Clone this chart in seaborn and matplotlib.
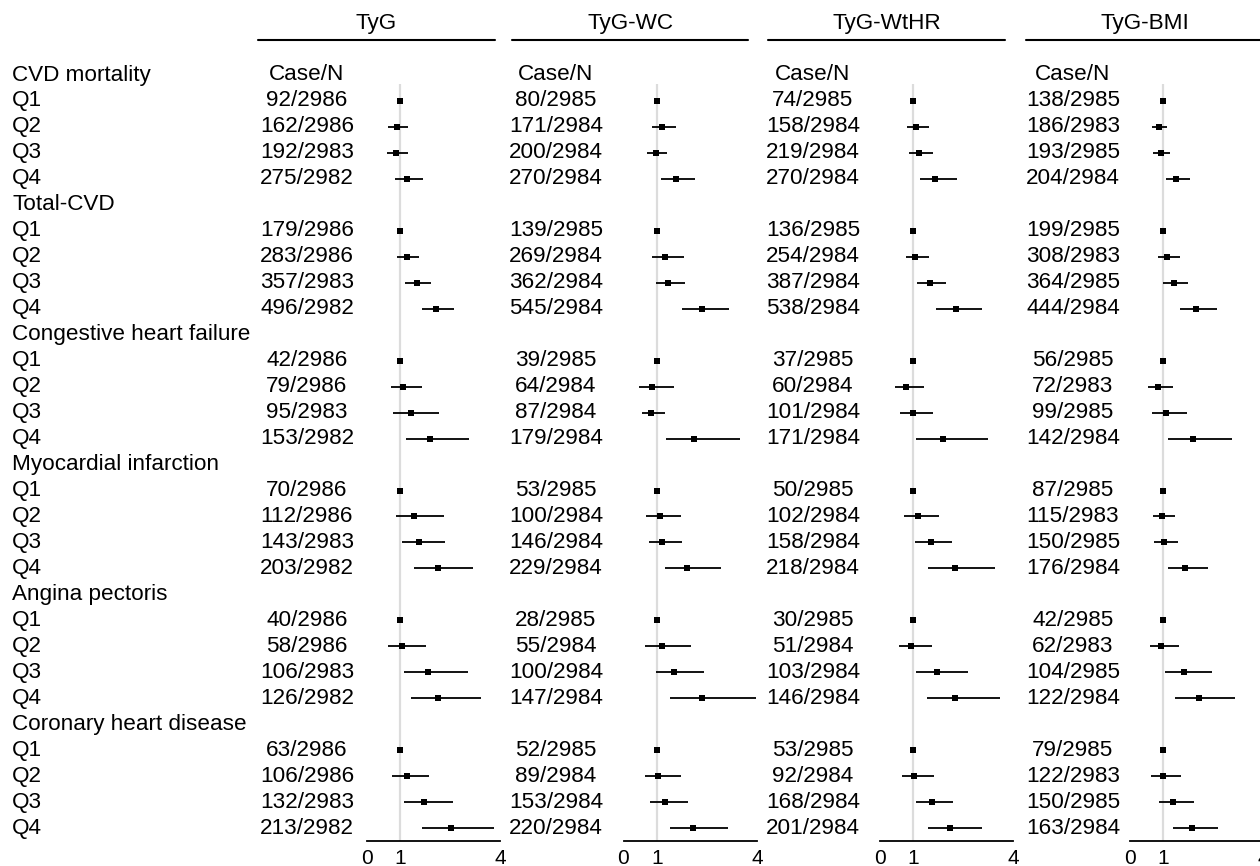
import matplotlib
matplotlib.use("Agg")
import matplotlib.pyplot as plt
import seaborn as sns
import pandas as pd

sns.set_style("white")
plt.rcParams["font.family"] = ["Liberation Sans", "DejaVu Sans"]
plt.rcParams["text.color"] = "black"
plt.rcParams["xtick.color"] = "black"

# ---- data -----------------------------------------------------------------
indices = ["TyG", "TyG-WC", "TyG-WtHR", "TyG-BMI"]
outcomes = ["CVD mortality", "Total-CVD", "Congestive heart failure",
            "Myocardial infarction", "Angina pectoris", "Coronary heart disease"]
quartiles = ["Q1", "Q2", "Q3", "Q4"]
x_ticks = [0, 1, 4]

# participants per quartile for each index
n_tyg = [2986, 2986, 2983, 2982]
n_wc = [2985, 2984, 2984, 2984]
n_wthr = [2985, 2984, 2984, 2984]
n_bmi = [2985, 2983, 2985, 2984]

# cases per outcome (rows) and quartile (columns)
cases_tyg = [[92, 162, 192, 275], [179, 283, 357, 496], [42, 79, 95, 153],
             [70, 112, 143, 203], [40, 58, 106, 126], [63, 106, 132, 213]]
cases_wc = [[80, 171, 200, 270], [139, 269, 362, 545], [39, 64, 87, 179],
            [53, 100, 146, 229], [28, 55, 100, 147], [52, 89, 153, 220]]
cases_wthr = [[74, 158, 219, 270], [136, 254, 387, 538], [37, 60, 101, 171],
              [50, 102, 158, 218], [30, 51, 103, 146], [53, 92, 168, 201]]
cases_bmi = [[138, 186, 193, 204], [199, 308, 364, 444], [56, 72, 99, 142],
             [87, 115, 150, 176], [42, 62, 104, 122], [79, 122, 150, 163]]

# hazard ratios and 95% CI (Q1 = reference)
hr_tyg = [[1.00, 0.90, 0.87, 1.20], [1.00, 1.22, 1.50, 2.08], [1.00, 1.10, 1.32, 1.91],
          [1.00, 1.43, 1.58, 2.14], [1.00, 1.06, 1.83, 2.15], [1.00, 1.21, 1.71, 2.53]]
lo_tyg = [[1.00, 0.65, 0.61, 0.85], [1.00, 0.92, 1.16, 1.66], [1.00, 0.73, 0.80, 1.18],
          [1.00, 0.88, 1.06, 1.43], [1.00, 0.63, 1.11, 1.34], [1.00, 0.77, 1.13, 1.66]]
hi_tyg = [[1.00, 1.23, 1.24, 1.69], [1.00, 1.58, 1.93, 2.62], [1.00, 1.65, 2.17, 3.07],
          [1.00, 2.32, 2.36, 3.20], [1.00, 1.78, 3.04, 3.43], [1.00, 1.88, 2.58, 3.83]]

hr_wc = [[1.00, 1.15, 0.97, 1.58], [1.00, 1.26, 1.34, 2.36], [1.00, 0.85, 0.84, 2.13],
         [1.00, 1.10, 1.17, 1.91], [1.00, 1.15, 1.52, 2.37], [1.00, 1.04, 1.25, 2.09]]
lo_wc = [[1.00, 0.85, 0.71, 1.13], [1.00, 0.86, 0.97, 1.75], [1.00, 0.47, 0.55, 1.29],
         [1.00, 0.68, 0.77, 1.24], [1.00, 0.64, 0.97, 1.41], [1.00, 0.64, 0.80, 1.39]]
hi_wc = [[1.00, 1.59, 1.32, 2.16], [1.00, 1.81, 1.84, 3.17], [1.00, 1.53, 1.25, 3.51],
         [1.00, 1.74, 1.77, 2.94], [1.00, 2.04, 2.41, 3.97], [1.00, 1.72, 1.94, 3.14]]

hr_wthr = [[1.00, 1.09, 1.18, 1.66], [1.00, 1.06, 1.49, 2.27], [1.00, 0.78, 0.99, 1.88],
           [1.00, 1.13, 1.52, 2.24], [1.00, 0.94, 1.70, 2.25], [1.00, 1.03, 1.55, 2.11]]
lo_wthr = [[1.00, 0.80, 0.87, 1.20], [1.00, 0.77, 1.11, 1.68], [1.00, 0.46, 0.61, 1.09],
           [1.00, 0.72, 1.06, 1.44], [1.00, 0.56, 1.09, 1.41], [1.00, 0.66, 1.09, 1.45]]
hi_wthr = [[1.00, 1.48, 1.58, 2.30], [1.00, 1.46, 1.97, 3.07], [1.00, 1.31, 1.58, 3.23],
           [1.00, 1.77, 2.17, 3.45], [1.00, 1.57, 2.64, 3.59], [1.00, 1.62, 2.18, 3.05]]

hr_bmi = [[1.00, 0.86, 0.92, 1.39], [1.00, 1.12, 1.31, 1.98], [1.00, 0.84, 1.07, 1.89],
          [1.00, 0.96, 1.01, 1.64], [1.00, 0.93, 1.61, 2.06], [1.00, 0.99, 1.30, 1.85]]
lo_bmi = [[1.00, 0.67, 0.70, 1.07], [1.00, 0.83, 0.98, 1.51], [1.00, 0.54, 0.66, 1.15],
          [1.00, 0.68, 0.71, 1.14], [1.00, 0.60, 1.06, 1.36], [1.00, 0.64, 0.88, 1.29]]
hi_bmi = [[1.00, 1.12, 1.20, 1.79], [1.00, 1.51, 1.74, 2.62], [1.00, 1.29, 1.72, 3.05],
          [1.00, 1.34, 1.43, 2.35], [1.00, 1.46, 2.45, 3.14], [1.00, 1.54, 1.91, 2.63]]

panels = [
    (n_tyg, cases_tyg, hr_tyg, lo_tyg, hi_tyg),
    (n_wc, cases_wc, hr_wc, lo_wc, hi_wc),
    (n_wthr, cases_wthr, hr_wthr, lo_wthr, hi_wthr),
    (n_bmi, cases_bmi, hr_bmi, lo_bmi, hi_bmi),
]

# ---- layout (pixels) -------------------------------------------------------
W, H = 1260, 866
fig = plt.figure(figsize=(W / 100, H / 100), dpi=100)
FS = 16.2

row0_px, row_step = 75, 25.97
ax_top_px, ax_bot_px = 48, 841
axis_zero_px = [366.7, 623.5, 880.0, 1130.0]
unit_px = 33.33
count_center_px = [307, 556, 813, 1073]
header_span_px = [(258, 495), (512, 748), (768, 1005), (1026, 1263)]


def row_px(i):
    return row0_px + row_step * i


def fy(px):
    return 1 - px / H


ylim_bottom = (ax_bot_px - row0_px) / row_step
ylim_top = (ax_top_px - row0_px) / row_step

# row labels on the left
for j, name in enumerate(outcomes):
    r = 5 * j
    fig.text(12 / W, fy(row_px(r)), name, fontsize=FS, ha="left", va="center")
    for q, ql in enumerate(quartiles):
        fig.text(12 / W, fy(row_px(r + 1 + q)), ql, fontsize=FS, ha="left", va="center")

for k, (idx_name, (nn, cases, hr, lo, hi)) in enumerate(zip(indices, panels)):
    # header with underline
    x0, x1 = header_span_px[k]
    fig.text((x0 + x1) / 2 / W, fy(23), idx_name, fontsize=FS, ha="center", va="center")
    fig.add_artist(plt.Line2D([x0 / W, x1 / W], [fy(40), fy(40)],
                              color="black", lw=1.5, transform=fig.transFigure))

    # Case/N column
    cx = count_center_px[k] / W
    fig.text(cx, fy(row_px(0)), "Case/N", fontsize=FS, ha="center", va="center")
    recs = []
    for j in range(len(outcomes)):
        r = 5 * j
        for q in range(4):
            fig.text(cx, fy(row_px(r + 1 + q)), f"{cases[j][q]}/{nn[q]}",
                     fontsize=FS, ha="center", va="center")
            recs.append({"row": r + 1 + q, "hr": hr[j][q], "lo": lo[j][q], "hi": hi[j][q]})
    df = pd.DataFrame(recs)

    # forest axes
    left = axis_zero_px[k] / W
    ax = fig.add_axes([left, 1 - ax_bot_px / H, 4 * unit_px / W, (ax_bot_px - ax_top_px) / H])
    ax.set_xlim(0, 4)
    ax.set_ylim(ylim_bottom, ylim_top)
    ax.vlines(1, 0.35, ylim_bottom, color="#dcdcdc", lw=1.6, zorder=1)
    ci = df[df["hi"] > df["lo"]]
    ax.hlines(ci["row"], ci["lo"], ci["hi"], color="black", lw=1.3, zorder=2)
    sns.scatterplot(data=df, x="hr", y="row", marker="s", s=16, color="black",
                    linewidth=0, ax=ax, legend=False, zorder=3)
    ax.set_xlabel("")
    ax.set_ylabel("")
    ax.set_yticks([])
    ax.set_xticks(x_ticks)
    ax.set_xticklabels([str(t) for t in x_ticks], fontsize=15)
    for s in ["top", "right", "left"]:
        ax.spines[s].set_visible(False)
    ax.spines["bottom"].set_color("black")
    ax.spines["bottom"].set_linewidth(1.3)
    ax.tick_params(axis="x", direction="out", length=4, width=1.3, pad=1.5, colors="black")
    ax.patch.set_alpha(0)

fig.savefig("out.png", dpi=100)
